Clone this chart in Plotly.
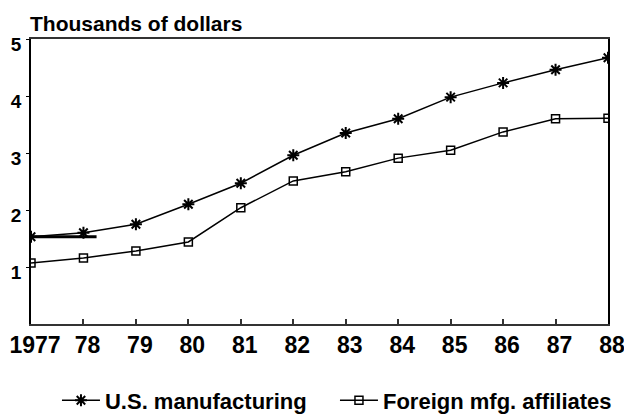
import plotly.graph_objects as go

years = [1977, 1978, 1979, 1980, 1981, 1982, 1983, 1984, 1985, 1986, 1987, 1988]
year_labels = ["1977", "78", "79", "80", "81", "82", "83", "84", "85", "86", "87", "88"]
us_manufacturing = [1.53, 1.60, 1.75, 2.10, 2.47, 2.96, 3.35, 3.60, 3.98, 4.23, 4.46, 4.67]
foreign_affiliates = [1.07, 1.16, 1.28, 1.44, 2.04, 2.51, 2.67, 2.91, 3.05, 3.37, 3.60, 3.61]
y_ticks = [1, 2, 3, 4, 5]

FONT = "Liberation Sans, Arial, sans-serif"

fig = go.Figure()

# thick start segment seen in the original print
fig.add_trace(go.Scatter(
    x=[years[0], years[1] + 0.25], y=[us_manufacturing[0], us_manufacturing[0]],
    mode="lines", line=dict(color="black", width=3), showlegend=False, hoverinfo="skip"))

fig.add_trace(go.Scatter(
    x=years, y=us_manufacturing, name="U.S. manufacturing",
    mode="lines+markers", line=dict(color="black", width=1.5),
    marker=dict(symbol="asterisk-open", size=10, color="black", line=dict(color="black", width=2))))

fig.add_trace(go.Scatter(
    x=years, y=foreign_affiliates, name="Foreign mfg. affiliates",
    mode="lines+markers", line=dict(color="black", width=1.5),
    marker=dict(symbol="square-open", size=8, color="black", line=dict(color="black", width=1.5))))

fig.update_layout(
    width=624, height=415,
    margin=dict(l=31, r=16, t=39, b=91, autoexpand=False),
    paper_bgcolor="white", plot_bgcolor="white",
    font=dict(family=FONT, color="black"),
    showlegend=True,
    legend=dict(orientation="h", x=0.045, xanchor="left", y=-0.268, yanchor="middle",
                font=dict(size=22, family=FONT, weight="bold", color="black"),
                itemwidth=38, entrywidth=225, entrywidthmode="pixels", bgcolor="rgba(0,0,0,0)"),
    xaxis=dict(range=[1977, 1988], tickvals=years, ticktext=year_labels, automargin=False,
               showgrid=False, zeroline=False, showline=True, linecolor="#333", linewidth=1.5,
               mirror=True, ticks="inside", ticklen=5, tickcolor="#333", tickwidth=1.5,
               ticklabelshift=4, ticklabelstandoff=0, ticklabeloverflow="allow",
               tickfont=dict(size=23, family=FONT, weight="bold", color="black")),
    yaxis=dict(range=[0, 5], tickvals=y_ticks, ticktext=[str(v) for v in y_ticks], automargin=False,
               showgrid=False, zeroline=False, showline=True, linecolor="black", linewidth=1.5,
               mirror=True, ticks="outside", ticklen=3, tickcolor="black",
               ticklabelshift=5, ticklabelstandoff=1, ticklabeloverflow="allow",
               tickfont=dict(size=19, family=FONT, weight="bold", color="black")),
    annotations=[dict(text="Thousands of dollars", xref="paper", yref="paper", x=0.0, y=1.0,
                      xanchor="left", yanchor="bottom", showarrow=False, yshift=2, xshift=-3,
                      font=dict(size=21, family=FONT, weight="bold", color="black"))],
)

fig.write_html("out.html", config={"displayModeBar": False},
               post_script="document.body.style.margin='0';document.body.style.overflow='hidden';")
